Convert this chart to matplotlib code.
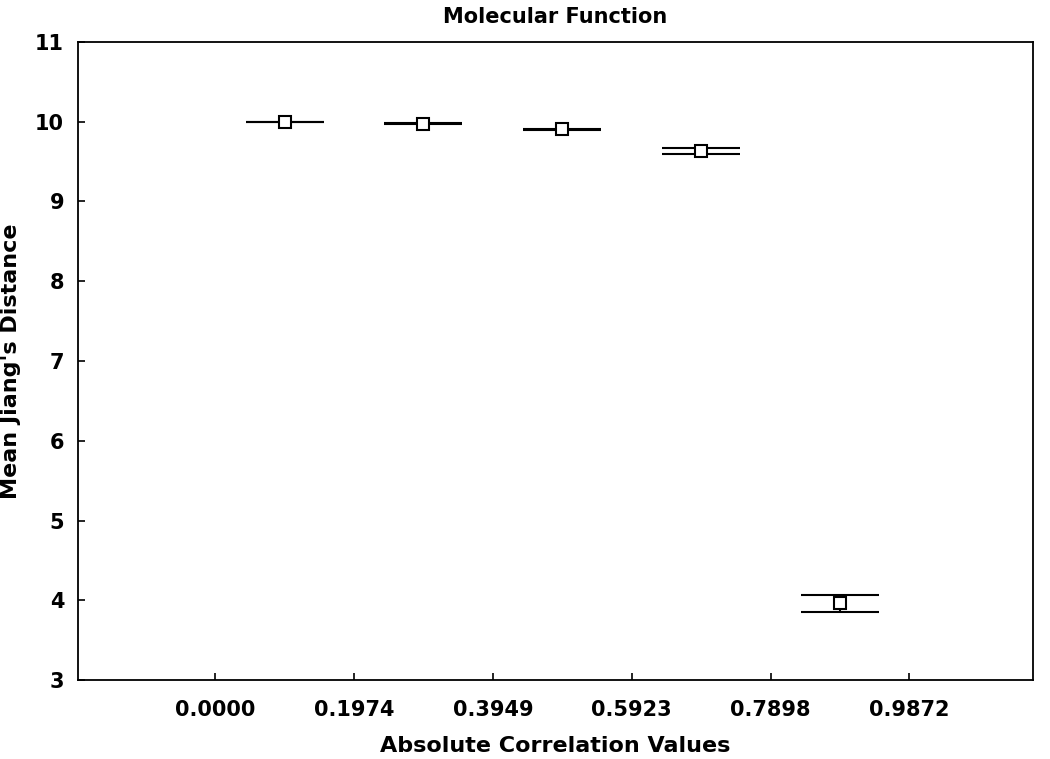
import matplotlib.pyplot as plt

# bins of absolute correlation and mean distance per bin
bin_edges = [0.0000, 0.1974, 0.3949, 0.5923, 0.7898, 0.9872]
bin_centers = [0.0987, 0.2962, 0.4936, 0.6910, 0.8885]
mean_dist = [10.00, 9.975, 9.905, 9.63, 3.96]
err_dist = [0.0, 0.006, 0.006, 0.04, 0.11]
line_w = [1.0, 1.8, 1.8, 1.5, 1.5]

plt.rcParams['font.family'] = 'DejaVu Sans'
plt.rcParams['font.weight'] = 'bold'

fig = plt.figure(figsize=(10.5, 7.59), dpi=100)
ax = fig.add_axes([0.0743, 0.104, 0.9095, 0.8407])

for x, y, e, lw in zip(bin_centers, mean_dist, err_dist, line_w):
    ax.errorbar([x], [y], yerr=[e], fmt='s', color='black',
                mfc='white', mec='black', ms=9, mew=1.5, ecolor='black',
                elinewidth=lw, capsize=28, capthick=lw, zorder=3)

ax.set_xlim(-0.195, 1.163)
ax.set_ylim(3, 11)
ax.set_xticks(bin_edges)
ax.set_xticklabels([f"{v:.4f}" for v in bin_edges])
ax.set_yticks(range(3, 12))
ax.tick_params(direction='in', length=5, width=1.2, labelsize=15, pad=14)
ax.tick_params(axis='y', pad=10)
for s in ax.spines.values():
    s.set_linewidth(1.3)

ax.set_xlabel("Absolute Correlation Values", fontsize=16, fontweight='bold', labelpad=12)
ax.set_ylabel("Mean Jiang's Distance", fontsize=16, fontweight='bold', labelpad=10)
ax.set_title("Molecular Function", fontsize=15, fontweight='bold', pad=14)

fig.savefig("out.png", dpi=100)
